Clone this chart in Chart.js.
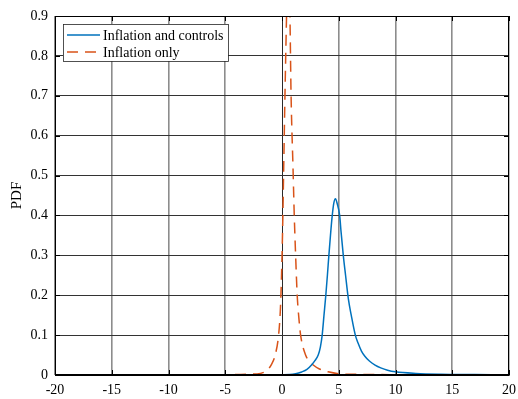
<!DOCTYPE html>
<html>
<head>
<meta charset="utf-8">
<script src="https://cdn.jsdelivr.net/npm/chart.js@4"></script>
<style>
  html, body { margin: 0; padding: 0; background: #fff; }
  #wrap { width: 518px; height: 399px; }
</style>
</head>
<body>
<div id="wrap"><canvas id="pdfChart" width="518" height="399"></canvas></div>
<script>
// values
const xTicks = [-20, -15, -10, -5, 0, 5, 10, 15, 20];
const yTicks = [0, 0.1, 0.2, 0.3, 0.4, 0.5, 0.6, 0.7, 0.8, 0.9];

const controlsX = [-20, -5, -2, 0, 0.7, 1.2, 1.73, 2.2, 2.6, 2.9, 3.19, 3.38, 3.54, 3.7, 3.86, 4.0, 4.13, 4.27, 4.41, 4.56, 4.71, 4.86, 5.08, 5.2, 5.4, 5.6, 5.85, 6.1, 6.46, 6.7, 7.0, 7.3, 7.7, 8.2, 8.7, 9.3, 10.0, 11.8, 14, 17, 20];
const controlsY = [0, 0, 0.0003, 0.0006, 0.001, 0.003, 0.0076, 0.014, 0.025, 0.036, 0.05, 0.07, 0.1, 0.15, 0.2, 0.25, 0.3, 0.35, 0.395, 0.43, 0.442, 0.43, 0.4, 0.36, 0.3, 0.25, 0.19, 0.15, 0.1, 0.08, 0.06, 0.047, 0.035, 0.025, 0.018, 0.012, 0.008, 0.004, 0.002, 0.001, 0];

const inflationX = [-20, -8, -5, -3, -1.9, -1.5, -1.2, -0.9, -0.6, -0.3, -0.15, -0.05, 0.05, 0.15, 0.26, 0.4, 0.55, 0.7, 0.8, 0.97, 1.08, 1.2, 1.34, 1.48, 1.64, 2.08, 2.4, 2.75, 3.3, 4.06, 5.1, 7, 10, 20];
const inflationY = [0, 0.0003, 0.0008, 0.002, 0.004, 0.008, 0.015, 0.028, 0.05, 0.1, 0.16, 0.24, 0.36, 0.52, 0.7, 0.9, 1.1, 0.9, 0.7, 0.52, 0.4, 0.3, 0.2, 0.145, 0.1, 0.05, 0.035, 0.025, 0.015, 0.008, 0.003, 0.0015, 0.0008, 0];

const seriesLabels = ['Inflation and controls', 'Inflation only'];

const toPoints = (xs, ys) => xs.map((x, i) => ({ x: x, y: ys[i] }));
const serif = 'Liberation Serif, Times New Roman, serif';

// frame, inner tick marks and boxed legend, MATLAB style
const framePlugin = {
    id: 'frame',
    afterDatasetsDraw(chart) {
        const ctx = chart.ctx;
        const a = chart.chartArea;
        const xs = chart.scales.x, ys = chart.scales.y;
        ctx.save();
        ctx.strokeStyle = '#000';
        ctx.lineWidth = 1;
        ctx.strokeRect(a.left + 0.5, a.top + 0.5, a.right - a.left - 1, a.bottom - a.top - 1);
        ctx.beginPath();
        xTicks.forEach(v => {
            const px = Math.round(xs.getPixelForValue(v)) + 0.5;
            ctx.moveTo(px, a.bottom); ctx.lineTo(px, a.bottom - 5);
            ctx.moveTo(px, a.top); ctx.lineTo(px, a.top + 5);
        });
        yTicks.forEach(v => {
            const py = Math.round(ys.getPixelForValue(v)) + 0.5;
            ctx.moveTo(a.left, py); ctx.lineTo(a.left + 5, py);
            ctx.moveTo(a.right, py); ctx.lineTo(a.right - 5, py);
        });
        ctx.stroke();

        // legend box
        const bx = a.left + 8, by = a.top + 8, bw = 165, bh = 37;
        ctx.fillStyle = '#fff';
        ctx.fillRect(bx, by, bw, bh);
        ctx.strokeStyle = '#262626';
        ctx.lineWidth = 0.8;
        ctx.strokeRect(bx + 0.5, by + 0.5, bw, bh);
        ctx.font = '14px ' + serif;
        ctx.textBaseline = 'middle';
        chart.data.datasets.forEach((ds, i) => {
            const ry = by + 11 + i * 17;
            ctx.beginPath();
            ctx.strokeStyle = ds.borderColor;
            ctx.lineWidth = 1.5;
            ctx.setLineDash(ds.borderDash || []);
            ctx.moveTo(bx + 4, ry); ctx.lineTo(bx + 37, ry);
            ctx.stroke();
            ctx.setLineDash([]);
            ctx.fillStyle = '#000';
            ctx.fillText(ds.label, bx + 40, ry + 1);
        });
        ctx.restore();
    }
};

const ctx = document.getElementById('pdfChart').getContext('2d');
new Chart(ctx, {
    type: 'line',
    data: {
        datasets: [{
            label: seriesLabels[0],
            data: toPoints(controlsX, controlsY),
            borderColor: '#0072BD',
            borderWidth: 1.5,
            pointRadius: 0,
            cubicInterpolationMode: 'monotone',
            fill: false
        }, {
            label: seriesLabels[1],
            data: toPoints(inflationX, inflationY),
            borderColor: '#D95319',
            borderWidth: 1.5,
            borderDash: [11, 7],
            pointRadius: 0,
            cubicInterpolationMode: 'monotone',
            fill: false
        }]
    },
    options: {
        responsive: false,
        animation: false,
        events: [],
        layout: { padding: { left: 0, right: 9, top: 16, bottom: 0 } },
        plugins: {
            legend: { display: false },
            tooltip: { enabled: false }
        },
        scales: {
            x: {
                type: 'linear',
                min: -20,
                max: 20,
                afterFit: scale => {
                    scale.height = 24;
                    scale.paddingLeft = 0;
                    scale.paddingRight = 0;
                },
                afterBuildTicks: scale => { scale.ticks = xTicks.map(v => ({ value: v })); },
                ticks: {
                    color: '#000',
                    font: { family: serif, size: 14 },
                    padding: 7,
                    maxRotation: 0,
                    callback: v => String(v)
                },
                // vertical lines look softer and wider in the reference, except x = 0
                grid: {
                    color: c => (c.tick && c.tick.value === 0 ? '#2a2a2a' : '#8c8c8c'),
                    lineWidth: c => (c.tick && c.tick.value === 0 ? 1 : 1.6),
                    drawTicks: false
                },
                border: { color: '#000' }
            },
            y: {
                min: 0,
                max: 0.9,
                afterFit: scale => {
                    scale.width = 55;
                    scale.paddingTop = 0;
                    scale.paddingBottom = 0;
                },
                afterBuildTicks: scale => { scale.ticks = yTicks.map(v => ({ value: v })); },
                ticks: {
                    color: '#000',
                    font: { family: serif, size: 14 },
                    padding: 7,
                    callback: v => String(Math.round(v * 10) / 10)
                },
                title: {
                    display: true,
                    text: 'PDF',
                    color: '#000',
                    font: { family: serif, size: 15 },
                    padding: { top: 8, bottom: 0 }
                },
                grid: { color: '#333333', lineWidth: 1, drawTicks: false },
                border: { color: '#000' }
            }
        }
    },
    plugins: [framePlugin]
});
</script>
</body>
</html>
